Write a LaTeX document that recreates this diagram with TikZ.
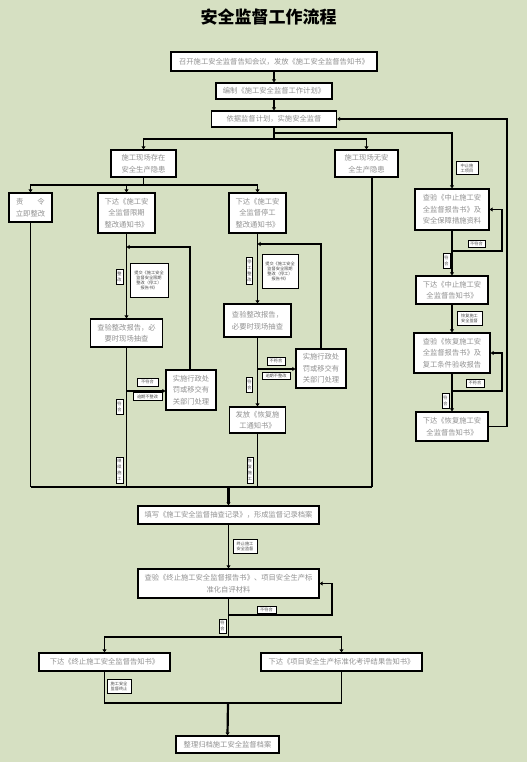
\documentclass[tikz,border=0pt]{standalone}
\usepackage{fontspec}
\setmainfont{Noto Sans CJK SC}
\usetikzlibrary{arrows.meta}
\definecolor{bg}{RGB}{214,224,194}
\definecolor{boxtext}{RGB}{145,145,145}
\begin{document}
\begin{tikzpicture}[x=1pt,y=-1pt,
 box/.style={draw, line width=1.2pt, fill=white, inner sep=0pt, align=center, text=boxtext, font=\fontsize{7.3}{11.5}\selectfont},
 lab/.style={draw, line width=1pt, fill=white, inner sep=0.8pt, align=center, text=black!70, font=\fontsize{4.2}{5}\selectfont},
 vlab/.style={draw, line width=1pt, fill=white, inner sep=0.8pt, align=center, text=black!70, font=\fontsize{4.2}{6}\selectfont},
 ln/.style={line width=1.2pt},
 thk/.style={line width=2.2pt},
 arr/.style={-{Triangle[length=3pt,width=3.8pt]}}]
\fill[bg] (0,0) rectangle (527,762);
\useasboundingbox (0,0) rectangle (527,762);

\node[font=\fontsize{17}{17}\selectfont\bfseries] (title) at (268.5,17.5) {安全监督工作流程};

% main boxes
\node[box,minimum width=206pt,minimum height=19pt] (b1) at (274,61.5) {召开施工安全监督告知会议，发放《施工安全监督告知书》};
\node[box,minimum width=116pt,minimum height=16pt] (b2) at (274,91) {编制《施工安全监督工作计划》};
\node[box,minimum width=125pt,minimum height=16pt] (b3) at (274,119) {依据监督计划，实施安全监督};

\node[box,minimum width=65pt,minimum height=27pt] (hz1) at (143.5,163.5) {施工现场存在\\安全生产隐患};
\node[box,minimum width=63pt,minimum height=27pt] (hz0) at (366.5,163.5) {施工现场无安\\全生产隐患};

\node[box,minimum width=43pt,minimum height=29pt] (c1) at (30.5,207.5) {责\hspace{14pt}令\\立即整改};
\node[box,minimum width=57pt,minimum height=40pt] (c2) at (126.5,213) {下达《施工安\\全监督限期\\整改通知书》};
\node[box,minimum width=57pt,minimum height=40pt] (c3) at (257.5,213) {下达《施工安\\全监督停工\\整改通知书》};

\node[box,minimum width=72pt,minimum height=28pt] (d2) at (126.5,333) {查验整改报告，必\\要时现场抽查};
\node[box,minimum width=50pt,minimum height=40pt] (p2) at (191,390) {实施行政处\\罚或移交有\\关部门处理};
\node[box,minimum width=67pt,minimum height=33pt] (d3) at (257.5,320.5) {查验整改报告，\\必要时现场抽查};
\node[box,minimum width=50pt,minimum height=39pt] (p3) at (321,368.5) {实施行政处\\罚或移交有\\关部门处理};
\node[box,minimum width=56pt,minimum height=26pt] (f3) at (257.5,420) {发放《恢复施\\工通知书》};

\node[box,minimum width=74pt,minimum height=41pt] (z1) at (452,209.5) {查验《中止施工安\\全监督报告书》及\\安全保障措施资料};
\node[box,minimum width=72pt,minimum height=28pt] (z2) at (452,290) {下达《中止施工安\\全监督告知书》};
\node[box,minimum width=76pt,minimum height=40pt] (z3) at (452,353) {查验《恢复施工安\\全监督报告书》及\\复工条件验收报告};
\node[box,minimum width=72pt,minimum height=29pt] (z4) at (452,426.5) {下达《恢复施工安\\全监督告知书》};

\node[box,minimum width=181pt,minimum height=18pt] (e1) at (228.5,515) {填写《施工安全监督抽查记录》，形成监督记录档案};
\node[box,minimum width=181pt,minimum height=29pt] (e2) at (228.5,583.5) {查验《终止施工安全监督报告书》、项目安全生产标\\准化自评材料};
\node[box,minimum width=131pt,minimum height=18pt] (g1) at (104.5,662) {下达《终止施工安全监督告知书》};
\node[box,minimum width=161pt,minimum height=18pt] (g2) at (341.5,662) {下达《项目安全生产标准化考评结果告知书》};
\node[box,minimum width=103pt,minimum height=17pt] (h) at (227.5,744.5) {整理归档施工安全监督档案};

% coordinates
\coordinate (j1) at (274,139);
\coordinate (j2) at (274,133);
\coordinate (j3) at (143.5,185);
\coordinate (k2) at (126.5,247);
\coordinate (k2b) at (126.5,391);
\coordinate (k3) at (257.5,244);
\coordinate (k3b) at (257.5,369);
\coordinate (m1) at (30.5,487);
\coordinate (m2) at (126.5,487);
\coordinate (m3) at (257.5,487);
\coordinate (m4) at (372,487);
\coordinate (m0) at (228.5,487);
\coordinate (r1) at (452,251);
\coordinate (r1r) at (502,251);
\coordinate (r2) at (452,391);
\coordinate (r2r) at (502,391);
\coordinate (r3) at (507,426.5);
\coordinate (k5) at (228.5,615);
\coordinate (k5r) at (332,615);
\coordinate (j6) at (228.5,637);
\coordinate (j7) at (228,703);

% connectors
\draw[ln,arr] (b1) -- (b2);
\draw[ln,arr] (b2) -- (b3);
\draw[ln] (b3.south) -- (j1);
\draw[ln,arr] (j1) -| (hz1.north);
\draw[ln,arr] (j1) -| (hz0.north);
\draw[ln,arr] (j2) -| (z1.north);
\draw[ln] (hz1.south) -- (j3);
\draw[ln,arr] (j3) -| (c1.north);
\draw[ln,arr] (j3) -| (c2.north);
\draw[ln,arr] (j3) -| (c3.north);

\draw[ln] (c1.south) -- (m1);
\draw[ln,arr] (c2.south) -- (d2.north);
\draw[ln,arr] ([xshift=-1pt]p2.north) |- (k2);
\draw[ln,arr] (k2b) -- (k2b -| p2.west);
\draw[ln] (d2.south) -- (m2);

\draw[ln,arr] (c3.south) -- (d3.north);
\draw[ln,arr] (p3.north) |- (k3);
\draw[ln,arr] (k3b) -- (k3b -| p3.west);
\draw[ln,arr] (d3.south) -- (f3.north);
\draw[ln] (f3.south) -- (m3);
\draw[ln] ([xshift=5.5pt]hz0.south) -- (m4);
\draw[ln] (m1) -- (m4);
\draw[thk,arr] (m0) -- (e1.north);

\draw[ln,arr] (z1.south) -- (z2.north);
\draw[ln,arr] (z2.south) -- (z3.north);
\draw[ln,arr] (z3.south) -- (z4.north);
\draw[ln,arr] (r1) -- (r1r) |- (z1.east);
\draw[ln,arr] (r2) -- (r2r) |- (z3.east);
\draw[ln,arr] (z4.east) -- (r3) |- (b3.east);

\draw[ln,arr] (e1) -- (e2);
\draw[ln,arr] (k5) -- (k5r) |- (e2.east);
\draw[ln] (e2.south) -- (j6);
\draw[ln,arr] (j6) -| (g1.north);
\draw[ln,arr] (j6) -| (g2.north);
\draw[ln] (g1.south) |- (j7);
\draw[ln] (g2.south) |- (j7);
\draw[thk,arr] (j7) -- (h.north);

% labels
\node[lab,minimum width=22pt,minimum height=13pt] (l1) at (467,168.5) {中止施\\工项目};
\node[lab,minimum width=17pt,minimum height=7pt] (l2) at (476.5,243.5) {不符合};
\node[vlab,minimum width=7pt,minimum height=15pt] (l3) at (446.5,260.5) {符\\合};
\node[lab,minimum width=25pt,minimum height=14pt] (l4) at (469.5,318) {恢复施工\\安全监督};
\node[lab,minimum width=18pt,minimum height=8pt] (l5) at (475,383) {不符合};
\node[vlab,minimum width=7pt,minimum height=15pt] (l6) at (445.5,400.5) {符\\合};

\node[vlab,minimum width=7pt,minimum height=15pt] (l7) at (119.5,276.5) {整\\改};
\node[lab,minimum width=38pt,minimum height=34pt] (l8) at (149,280) {提交《施工安全\\监督安全限期\\整改（停工）\\报告书》};
\node[lab,minimum width=21pt,minimum height=8pt] (l9) at (147.5,382) {不符合};
\node[lab,minimum width=29pt,minimum height=8pt] (l10) at (147.5,396.5) {逾期不整改};
\node[vlab,minimum width=7pt,minimum height=15pt] (l11) at (119.5,406.5) {符\\合};
\node[vlab,minimum width=7pt,minimum height=26pt] (l12) at (119.5,470) {继\\续\\施\\工};

\node[vlab,minimum width=6pt,minimum height=27pt] (l13) at (249.5,270.5) {停\\工\\整\\改};
\node[lab,minimum width=36pt,minimum height=34pt] (l14) at (280,271) {提交《施工安全\\监督安全限期\\整改（停工）\\报告书》};
\node[lab,minimum width=18pt,minimum height=8pt] (l15) at (276,361) {不符合};
\node[lab,minimum width=28pt,minimum height=7pt] (l16) at (276,375.5) {逾期不整改};
\node[vlab,minimum width=6pt,minimum height=15pt] (l17) at (249.5,384.5) {符\\合};
\node[vlab,minimum width=6pt,minimum height=26pt] (l18) at (250,470) {恢\\复\\施\\工};

\node[lab,minimum width=24pt,minimum height=14pt] (l19) at (245,546) {终止施工\\安全监督};
\node[lab,minimum width=19pt,minimum height=7pt] (l20) at (266.5,609.5) {不符合};
\node[vlab,minimum width=7pt,minimum height=14pt] (l21) at (222.5,626) {符\\合};
\node[lab,minimum width=24pt,minimum height=14pt] (l22) at (119,686) {施工安全\\监督终止};
\end{tikzpicture}
\end{document}
